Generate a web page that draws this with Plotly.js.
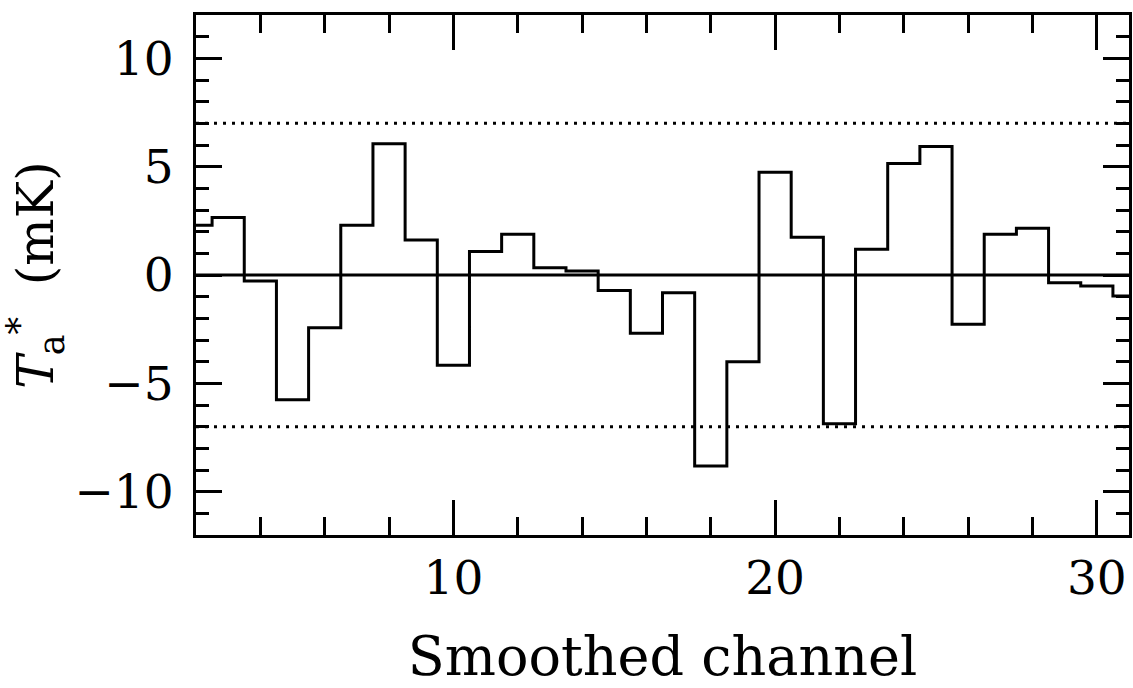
<!DOCTYPE html>
<html>
<head>
<meta charset="utf-8">
<script src="https://cdn.plot.ly/plotly-3.0.1.min.js"></script>
<style>html,body{margin:0;padding:0;background:#fff;}#chart{width:1133px;height:688px;}</style>
</head>
<body>
<div id="chart"></div>
<script>
// Smoothed channel numbers
const channels = [2,3,4,5,6,7,8,9,10,11,12,13,14,15,16,17,18,19,20,21,22,23,24,25,26,27,28,29,30,31];
// Antenna temperature T_a* (mK)
const tempMK = [2.30,2.65,-0.28,-5.76,-2.44,2.30,6.06,1.62,-4.17,1.08,1.88,0.34,0.19,-0.71,-2.69,-0.82,-8.81,-4.00,4.74,1.74,-6.87,1.19,5.15,5.93,-2.27,1.88,2.16,-0.36,-0.51,-0.97];
// Reference levels (mK)
const zeroLevel = [0];
const limits = [-7, 7];
const xRange = [2, 31];
const yRange = [-12, 12];
const xTickVals = [10, 20, 30];
const yTickVals = [-10, -5, 0, 5, 10];
const yTickText = ['\u221210', '\u22125', '0', '5', '10'];

const FONT = 'DejaVu Serif, Liberation Serif, serif';

const traces = [];
limits.forEach(v => traces.push({
  x: xRange, y: [v, v], mode: 'lines', type: 'scatter', hoverinfo: 'skip',
  line: {color: '#000', width: 3, dash: '3px,6px'}, showlegend: false
}));
zeroLevel.forEach(v => traces.push({
  x: xRange, y: [v, v], mode: 'lines', type: 'scatter', hoverinfo: 'skip',
  line: {color: '#000', width: 3}, showlegend: false
}));
traces.push({
  x: channels, y: tempMK, mode: 'lines', type: 'scatter',
  line: {shape: 'hvh', color: '#000', width: 3}, showlegend: false
});

const layout = {
  width: 1133, height: 688,
  margin: {l: 196, r: 4, t: 15, b: 153},
  paper_bgcolor: '#fff', plot_bgcolor: '#fff',
  font: {family: FONT, size: 48, color: '#000'},
  xaxis: {
    range: xRange, showgrid: false, zeroline: false,
    showline: true, linewidth: 3, linecolor: '#000', mirror: 'allticks',
    ticks: 'inside', ticklen: 35, tickwidth: 3, tickcolor: '#000',
    tickmode: 'array', tickvals: xTickVals,
    tickfont: {family: FONT, size: 47},
    minor: {dtick: 2, tick0: 0, ticks: 'inside', ticklen: 18, tickwidth: 3, tickcolor: '#000', showgrid: false},
    title: {text: 'Smoothed channel', font: {family: FONT, size: 54}, standoff: 40}
  },
  yaxis: {
    range: yRange, showgrid: false, zeroline: false,
    showline: true, linewidth: 3, linecolor: '#000', mirror: 'allticks',
    ticks: 'inside', ticklen: 26, tickwidth: 3, tickcolor: '#000',
    tickmode: 'array', tickvals: yTickVals, ticktext: yTickText,
    ticklabelstandoff: 10,
    tickfont: {family: FONT, size: 47},
    minor: {dtick: 1, tick0: 0, ticks: 'inside', ticklen: 13, tickwidth: 3, tickcolor: '#000', showgrid: false},
    title: {text: '<i>T</i><sub>a</sub><sup>*</sup>  (mK)', font: {family: FONT, size: 50}, standoff: 14}
  }
};

Plotly.newPlot('chart', traces, layout, {displayModeBar: false, staticPlot: true});
</script>
</body>
</html>
